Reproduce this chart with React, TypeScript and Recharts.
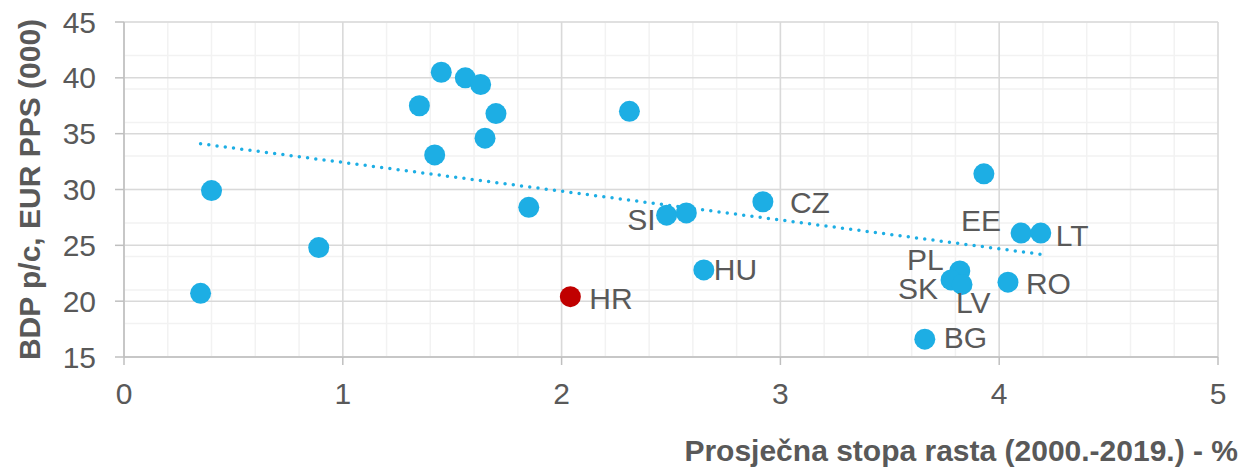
import { ScatterChart, Scatter, XAxis, YAxis, CartesianGrid, Cell } from "recharts";

// zemlje (prazno = bez oznake)
const countries = ["", "", "", "", "", "", "", "", "", "", "", "", "HR", "SI", "", "HU", "CZ", "", "EE", "LT", "PL", "SK", "LV", "RO", "BG"];
const growth = [0.35, 0.4, 0.89, 1.35, 1.45, 1.56, 1.63, 1.7, 1.65, 1.42, 1.85, 2.31, 2.04, 2.48, 2.57, 2.65, 2.92, 3.93, 4.1, 4.19, 3.82, 3.78, 3.83, 4.04, 3.66];
const gdp = [20.7, 29.9, 24.8, 37.5, 40.5, 40.0, 39.4, 36.8, 34.6, 33.1, 28.4, 37.0, 20.4, 27.7, 27.9, 22.8, 28.9, 31.4, 26.1, 26.1, 22.7, 21.9, 21.5, 21.7, 16.6];

const trendX = [0.35, 4.19];
const trendY = [34.1, 24.2];

const xTicks = [0, 1, 2, 3, 4, 5];
const yTicks = [15, 20, 25, 30, 35, 40, 45];
const xMinor = Array.from({ length: 26 }, (_, i) => Math.round(i * 2) / 10);
const yMinor = Array.from({ length: 31 }, (_, i) => 15 + i);

const points = countries.map((name, i) => ({ name, x: growth[i], y: gdp[i] }));
const trend = trendX.map((x, i) => ({ x, y: trendY[i] }));

const BLUE = "#1DAEE4";
const RED = "#C00000";
const TEXT = "#595959";
const FONT = "'Liberation Sans', Arial, sans-serif";

const labelPlacement: Record<string, { dx: number; dy: number; anchor: "start" | "end" }> = {
  HR: { dx: 19, dy: 2, anchor: "start" },
  HU: { dx: 10, dy: 0, anchor: "start" },
  CZ: { dx: 27, dy: 1, anchor: "start" },
  SI: { dx: -11, dy: 4, anchor: "end" },
  EE: { dx: -20, dy: -13, anchor: "end" },
  LT: { dx: 15, dy: 2, anchor: "start" },
  PL: { dx: -16, dy: -12, anchor: "end" },
  SK: { dx: -13, dy: 9, anchor: "end" },
  LV: { dx: -6, dy: 18, anchor: "start" },
  RO: { dx: 18, dy: 1, anchor: "start" },
  BG: { dx: 19, dy: -2, anchor: "start" },
};

function Dot(props: any) {
  const { cx, cy, fill, payload } = props;
  const p = labelPlacement[payload.name];
  return (
    <g>
      <circle cx={cx} cy={cy} r={10.5} fill={fill} />
      {p && (
        <text x={cx + p.dx} y={cy + p.dy} textAnchor={p.anchor} dominantBaseline="central"
          fill={TEXT} fontSize={30} fontFamily={FONT}>
          {payload.name}
        </text>
      )}
    </g>
  );
}

function YTitle(props: any) {
  const { viewBox } = props;
  const cx = 29;
  const cy = viewBox.y + viewBox.height / 2;
  return (
    <text x={cx} y={cy} transform={`rotate(-90, ${cx}, ${cy})`} textAnchor="middle" dominantBaseline="central"
      fill={TEXT} fontSize={30} fontWeight="bold" fontFamily={FONT}>
      BDP p/c, EUR PPS (000)
    </text>
  );
}

function XTitle(props: any) {
  const { viewBox } = props;
  return (
    <text x={viewBox.x + viewBox.width + 20} y={461} textAnchor="end"
      fill={TEXT} fontSize={30} fontWeight="bold" fontFamily={FONT}>
      Prosječna stopa rasta (2000.-2019.) - %
    </text>
  );
}

export default function App() {
  return (
    <div style={{ position: "absolute", left: 0, top: 0, background: "#fff" }}>
      <ScatterChart width={1255} height={469} margin={{ top: 22, right: 37, bottom: 0, left: 0 }}>
        <CartesianGrid stroke="#F2F2F2" strokeWidth={1.5} horizontalValues={yMinor} verticalValues={xMinor} />
        <CartesianGrid stroke="#D9D9D9" strokeWidth={1.5} horizontalValues={yTicks} verticalValues={xTicks} />
        <XAxis type="number" dataKey="x" domain={[0, 5]} ticks={xTicks} height={112}
          stroke="#BFBFBF" strokeWidth={1.5} tickSize={8} tickMargin={18}
          tick={{ fill: TEXT, fontSize: 30, fontFamily: FONT }} label={<XTitle />} />
        <YAxis type="number" dataKey="y" domain={[15, 45]} ticks={yTicks} width={124}
          stroke="#BFBFBF" strokeWidth={1.5} tickSize={9} tickMargin={19}
          tick={{ fill: TEXT, fontSize: 30, fontFamily: FONT }} label={<YTitle />} />
        <Scatter data={points} shape={<Dot />} isAnimationActive={false}>
          {points.map((p, i) => (
            <Cell key={i} fill={p.name === "HR" ? RED : BLUE} />
          ))}
        </Scatter>
        <Scatter data={trend} shape={() => <g />} isAnimationActive={false}
          line={{ stroke: BLUE, strokeWidth: 3.5, strokeDasharray: "0 8.3", strokeLinecap: "round" }} />
      </ScatterChart>
    </div>
  );
}
